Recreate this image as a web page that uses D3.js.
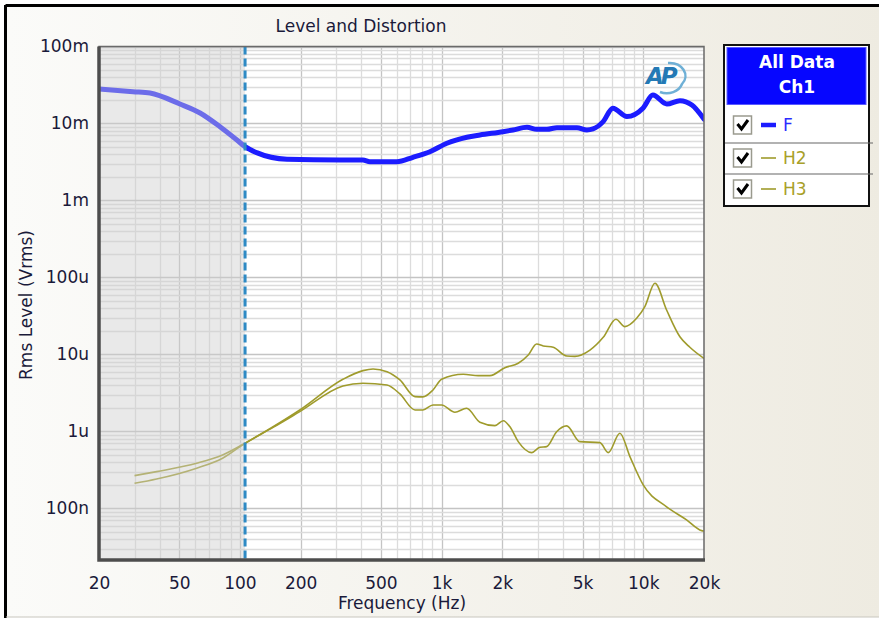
<!DOCTYPE html>
<html>
<head>
<meta charset="utf-8">
<script src="https://cdn.jsdelivr.net/npm/d3@7"></script>
<style>
  html, body { margin: 0; padding: 0; background: #fff; }
  svg { display: block; font-family: "DejaVu Sans", Verdana, sans-serif; }
</style>
</head>
<body>
<div id="chart"></div>
<script>
// ---- data ----
const xTickValues = [20, 50, 100, 200, 500, 1000, 2000, 5000, 10000, 20000];
const xTickLabels = ["20", "50", "100", "200", "500", "1k", "2k", "5k", "10k", "20k"];
const yTickValues = [1e-7, 1e-6, 1e-5, 1e-4, 1e-3, 1e-2, 1e-1];
const yTickLabels = ["100n", "1u", "10u", "100u", "1m", "10m", "100m"];

const seriesNames = ["F", "H2", "H3"];

// F (fundamental), Vrms
const freqF = [20, 29.5, 35.8, 50.4, 63.4, 79.6, 96.6, 106, 121, 171, 313, 407, 441, 600, 721, 875,
  1062, 1335, 1548, 2014, 2258, 2649, 2968, 3327, 3731, 4688, 5254, 5627, 6307, 7068, 8296, 9958,
  11160, 13090, 15190, 17420, 20000];
const levelF = [28.1e-3, 25.9e-3, 24.9e-3, 17.9e-3, 13.7e-3, 9.08e-3, 6.1e-3, 5.0e-3, 4.18e-3, 3.43e-3,
  3.36e-3, 3.36e-3, 3.19e-3, 3.19e-3, 3.64e-3, 4.3e-3, 5.53e-3, 6.62e-3, 7.09e-3, 7.83e-3, 8.24e-3,
  8.93e-3, 8.41e-3, 8.41e-3, 8.81e-3, 8.81e-3, 8.24e-3, 8.49e-3, 10.5e-3, 15.8e-3, 12.3e-3, 15.8e-3,
  23.4e-3, 17.9e-3, 19.8e-3, 17.4e-3, 11.4e-3];

// H2 (upper harmonic trace)
const freqH2 = [30, 38.6, 61, 82, 106, 146, 198, 324, 407, 457, 536, 621, 738, 808, 906, 1000, 1280,
  1519, 1736, 2060, 2398, 2689, 2958, 3190, 3576, 4167, 4581, 5438, 6329, 7317, 8106, 9266, 10180,
  11420, 13050, 15190, 17020, 20000];
const levelH2 = [267e-9, 301e-9, 386e-9, 495e-9, 703e-9, 1.15e-6, 1.90e-6, 4.76e-6, 6.17e-6, 6.48e-6,
  5.98e-6, 4.67e-6, 2.83e-6, 2.81e-6, 3.46e-6, 4.76e-6, 5.53e-6, 5.31e-6, 5.31e-6, 6.74e-6, 7.69e-6,
  9.86e-6, 13.7e-6, 12.9e-6, 12.4e-6, 9.57e-6, 9.45e-6, 11.4e-6, 16.7e-6, 28.7e-6, 23.0e-6, 29.5e-6,
  41.8e-6, 84.1e-6, 37.8e-6, 17.0e-6, 12.4e-6, 8.87e-6];

// H3 (lower harmonic trace)
const freqH3 = [30, 38.6, 61, 82, 106, 146, 198, 324, 407, 536, 621, 738, 808, 906, 1000, 1164, 1330,
  1548, 1839, 2021, 2182, 2398, 2796, 3072, 3316, 3718, 4167, 4849, 6096, 6700, 7656, 8584, 9990,
  13050, 16390, 19460, 20000];
const levelH3 = [212e-9, 241e-9, 333e-9, 449e-9, 703e-9, 1.13e-6, 1.81e-6, 3.90e-6, 4.23e-6, 4.02e-6,
  3.07e-6, 1.90e-6, 1.90e-6, 2.21e-6, 2.21e-6, 1.78e-6, 2.00e-6, 1.32e-6, 1.19e-6, 1.38e-6, 1.15e-6,
  737e-9, 531e-9, 624e-9, 635e-9, 993e-9, 1.18e-6, 737e-9, 716e-9, 531e-9, 948e-9, 471e-9, 202e-9,
  105e-9, 71e-9, 51.5e-9, 51e-9];

// cursor / shaded band edge
const cursorFreq = 106;

// ---- layout ----
const W = 879, H = 618;
const plot = { left: 99, right: 704, top: 46.5, bottom: 560 };
const colF = "#1c1cff";
const colH = "#9f9b2c";

const svg = d3.select("#chart").append("svg").attr("width", W).attr("height", H);

const defs = svg.append("defs");
const grad = defs.append("linearGradient").attr("id", "bg").attr("x1", 0).attr("x2", 1).attr("y1", 0).attr("y2", 0);
grad.append("stop").attr("offset", "0%").attr("stop-color", "#fbfbf9");
grad.append("stop").attr("offset", "100%").attr("stop-color", "#eeebe1");
defs.append("clipPath").attr("id", "plotclip").append("rect")
  .attr("x", plot.left).attr("y", plot.top)
  .attr("width", plot.right - plot.left).attr("height", plot.bottom - plot.top);

// outer panel
svg.append("rect").attr("x", 0).attr("y", 0).attr("width", W).attr("height", H).attr("fill", "#fff");
svg.append("rect").attr("x", 6).attr("y", 6).attr("width", W).attr("height", H - 7)
  .attr("fill", "url(#bg)");
svg.append("line").attr("x1", 5.5).attr("x2", W).attr("y1", 5.5).attr("y2", 5.5)
  .attr("stroke", "#000").attr("stroke-width", 3);
svg.append("line").attr("x1", 5.5).attr("x2", 5.5).attr("y1", 5).attr("y2", H)
  .attr("stroke", "#000").attr("stroke-width", 3);
svg.append("line").attr("x1", 6).attr("x2", W).attr("y1", H - 1).attr("y2", H - 1)
  .attr("stroke", "#c8c6be").attr("stroke-width", 1);

// scales
const x = d3.scaleLog().domain([20, 20000]).range([plot.left, plot.right]);
const y = d3.scaleLog().domain([2.14e-8, 0.1]).range([plot.bottom, plot.top]);

// plot background
svg.append("rect").attr("x", plot.left).attr("y", plot.top)
  .attr("width", plot.right - plot.left).attr("height", plot.bottom - plot.top).attr("fill", "#fff");

// grid
const grid = svg.append("g").attr("clip-path", "url(#plotclip)");
const xGrid = [];
for (let d = 10; d <= 10000; d *= 10) for (let m = 1; m <= 9; m++) {
  const v = d * m;
  if (v >= 20 && v <= 20000) xGrid.push(v);
}
const yGrid = [];
for (let d = 1e-8; d <= 0.1; d *= 10) for (let m = 1; m <= 9; m++) {
  const v = d * m;
  if (v >= 2.14e-8 && v <= 0.1001) yGrid.push(v);
}
const isMajorX = v => xTickValues.some(t => Math.abs(t - v) / t < 1e-6);
const isMajorY = v => yTickValues.some(t => Math.abs(t - v) / t < 1e-6);

grid.selectAll(".gx").data(xGrid).enter().append("line")
  .attr("x1", d => Math.round(x(d)) + 0.5).attr("x2", d => Math.round(x(d)) + 0.5)
  .attr("y1", plot.top).attr("y2", plot.bottom)
  .attr("stroke", d => isMajorX(d) ? "#c4c4c4" : "#dcdcdc").attr("stroke-width", 1.3);
grid.selectAll(".gy").data(yGrid).enter().append("line")
  .attr("x1", plot.left).attr("x2", plot.right)
  .attr("y1", d => Math.round(y(d)) + 0.5).attr("y2", d => Math.round(y(d)) + 0.5)
  .attr("stroke", d => isMajorY(d) ? "#c4c4c4" : "#dcdcdc").attr("stroke-width", 1.3);

// curves
const curves = svg.append("g").attr("clip-path", "url(#plotclip)");
const lineGen = d3.line().x(d => x(d[0])).y(d => y(d[1])).curve(d3.curveMonotoneX);

curves.append("path").datum(d3.zip(freqH2, levelH2)).attr("d", lineGen)
  .attr("fill", "none").attr("stroke", colH).attr("stroke-width", 1.6);
curves.append("path").datum(d3.zip(freqH3, levelH3)).attr("d", lineGen)
  .attr("fill", "none").attr("stroke", colH).attr("stroke-width", 1.6);
curves.append("path").datum(d3.zip(freqF, levelF)).attr("d", lineGen)
  .attr("fill", "none").attr("stroke", colF).attr("stroke-width", 5)
  .attr("stroke-linejoin", "round").attr("stroke-linecap", "round");

// shaded band below cursor (drawn over the data, semi transparent)
svg.append("rect")
  .attr("x", plot.left).attr("y", plot.top)
  .attr("width", x(cursorFreq) - plot.left).attr("height", plot.bottom - plot.top)
  .attr("fill", "#cfcfcf").attr("opacity", 0.45);

// cursor line
svg.append("line")
  .attr("x1", x(cursorFreq)).attr("x2", x(cursorFreq))
  .attr("y1", plot.top).attr("y2", plot.bottom)
  .attr("stroke", "#2e8ac4").attr("stroke-width", 3).attr("stroke-dasharray", "8,4");

// plot frame
svg.append("rect").attr("x", plot.left).attr("y", plot.top)
  .attr("width", plot.right - plot.left).attr("height", plot.bottom - plot.top)
  .attr("fill", "none").attr("stroke", "#6a6a6a").attr("stroke-width", 1.5);
svg.append("path")
  .attr("d", `M${plot.left},${plot.top} V${plot.bottom} H${plot.right + 1}`)
  .attr("fill", "none").attr("stroke", "#4d4d4d").attr("stroke-width", 3.5);

// axes
const xAxis = d3.axisBottom(x).tickValues(xTickValues)
  .tickFormat((d, i) => xTickLabels[i]).tickSize(0).tickPadding(17);
const gx = svg.append("g").attr("transform", `translate(0,${plot.bottom})`).call(xAxis);
gx.select(".domain").remove();
gx.selectAll("text").attr("font-size", 17).attr("fill", "#1a1a3a")
  .attr("font-family", "'DejaVu Sans', Verdana, sans-serif");

const yAxis = d3.axisLeft(y).tickValues(yTickValues)
  .tickFormat((d, i) => yTickLabels[i]).tickSize(0).tickPadding(10);
const gy = svg.append("g").attr("transform", `translate(${plot.left},0)`).call(yAxis);
gy.select(".domain").remove();
gy.selectAll("text").attr("font-size", 17).attr("fill", "#1a1a3a")
  .attr("font-family", "'DejaVu Sans', Verdana, sans-serif");

// titles
svg.append("text").attr("x", 361).attr("y", 32).attr("text-anchor", "middle")
  .attr("font-size", 17).attr("fill", "#1a1a3a").text("Level and Distortion");
svg.append("text").attr("x", 402).attr("y", 609).attr("text-anchor", "middle")
  .attr("font-size", 17).attr("fill", "#1a1a3a").text("Frequency (Hz)");
svg.append("text").attr("transform", "translate(32,305) rotate(-90)").attr("text-anchor", "middle")
  .attr("font-size", 17).attr("fill", "#1a1a3a").text("Rms Level (Vrms)");

// AP logo
const logo = svg.append("g").attr("transform", "translate(646,62)");
logo.append("text").attr("x", 0).attr("y", 22).attr("font-size", 23).attr("font-weight", "bold")
  .attr("font-style", "italic").attr("fill", "#2479b5").attr("letter-spacing", -3).text("AP");
logo.append("path").attr("d", "M22,1 A16,13 0 0 1 36,22 A16,13 0 0 1 14,30")
  .attr("fill", "none").attr("stroke", "#6fb0d6").attr("stroke-width", 2.5);

// legend
const lg = svg.append("g");
lg.append("rect").attr("x", 724).attr("y", 45).attr("width", 145).attr("height", 161)
  .attr("fill", "#fff").attr("stroke", "#111").attr("stroke-width", 2);
lg.append("rect").attr("x", 727).attr("y", 47.5).attr("width", 139).attr("height", 57)
  .attr("fill", "#0606ff").attr("stroke", "#5a5aff").attr("stroke-width", 1);
lg.append("text").attr("x", 797).attr("y", 68).attr("text-anchor", "middle").attr("font-size", 17)
  .attr("font-weight", "bold").attr("fill", "#fff").text("All Data");
lg.append("text").attr("x", 797).attr("y", 93).attr("text-anchor", "middle").attr("font-size", 17)
  .attr("font-weight", "bold").attr("fill", "#fff").text("Ch1");

const rowY = [125, 158, 189];
[143, 174].forEach(yy => {
  lg.append("line").attr("x1", 725).attr("x2", 873).attr("y1", yy).attr("y2", yy)
    .attr("stroke", "#666").attr("stroke-width", 1.2);
});
seriesNames.forEach((name, i) => {
  const cy = rowY[i];
  lg.append("rect").attr("x", 733.5).attr("y", cy - 9).attr("width", 18).attr("height", 18)
    .attr("fill", "#fff").attr("stroke", "#9a9a8e").attr("stroke-width", 1.5);
  lg.append("path").attr("d", `M737.5,${cy - 1} L741.5,${cy + 4} L748,${cy - 5}`)
    .attr("fill", "none").attr("stroke", "#000").attr("stroke-width", 3);
  const c = i === 0 ? colF : colH;
  lg.append("line").attr("x1", 761).attr("x2", 776).attr("y1", cy).attr("y2", cy)
    .attr("stroke", c).attr("stroke-width", i === 0 ? 4.5 : 1.6);
  lg.append("text").attr("x", 783).attr("y", cy + 6).attr("font-size", 17)
    .attr("fill", i === 0 ? "#2b2bff" : "#a8a028").text(name);
});
</script>
</body>
</html>
